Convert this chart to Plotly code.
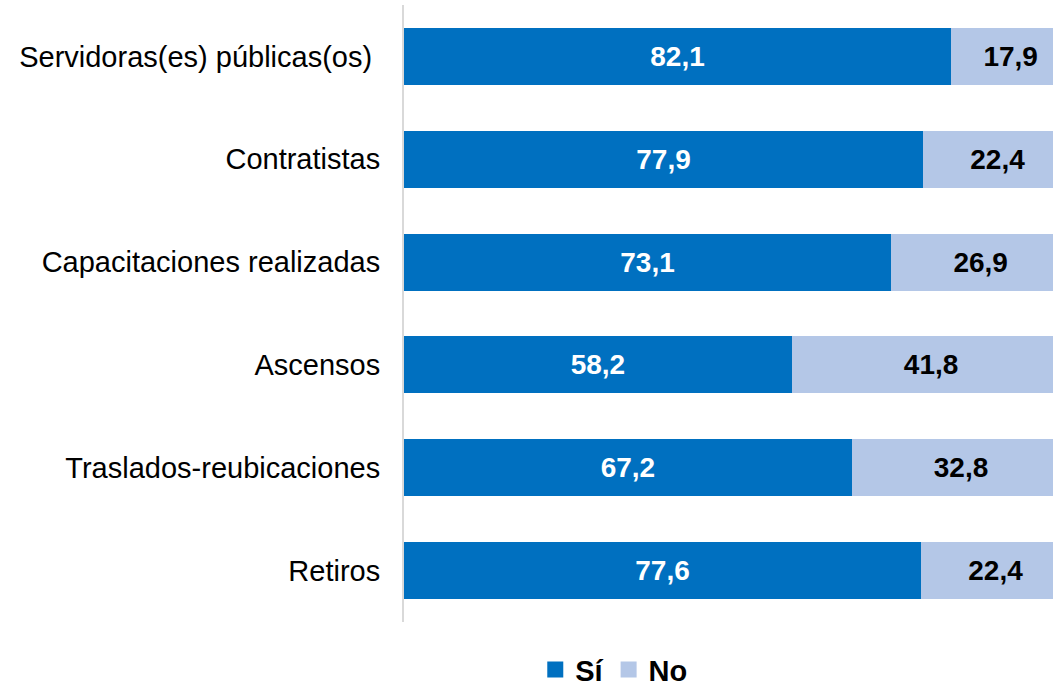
import plotly.graph_objects as go

categories = [
    "Servidoras(es) públicas(os)\u00a0",
    "Contratistas",
    "Capacitaciones realizadas",
    "Ascensos",
    "Traslados-reubicaciones",
    "Retiros",
]
si_values = [82.1, 77.9, 73.1, 58.2, 67.2, 77.6]
no_values = [17.9, 22.4, 26.9, 41.8, 32.8, 22.4]

FONT = "Arial, Liberation Sans, sans-serif"
SI_COLOR = "#0070C0"
NO_COLOR = "#B4C7E7"

fig = go.Figure()
for name, vals, color, txt in [("Sí", si_values, SI_COLOR, "white"), ("No", no_values, NO_COLOR, "black")]:
    fig.add_trace(go.Bar(
        y=categories, x=vals, orientation="h", name=name, showlegend=False,
        marker=dict(color=color, line=dict(width=0)),
        texttemplate="%{x:.1f}", textposition="inside", insidetextanchor="middle",
        textangle=0, constraintext="none",
        textfont=dict(family=FONT, size=28, color=txt, weight="bold"),
    ))
    # legend entry with bigger square swatch
    fig.add_trace(go.Scatter(
        x=[None], y=[None], mode="markers", name=name,
        marker=dict(symbol="square", size=16, color=color),
    ))

fig.update_layout(
    barmode="stack",
    bargap=0.445,
    separators=",.",
    width=1053, height=689,
    margin=dict(l=404, r=0, t=5, b=67),
    paper_bgcolor="white",
    plot_bgcolor="white",
    font=dict(family=FONT, size=29, color="black"),
    xaxis=dict(range=[0, 97.4], visible=False, fixedrange=True),
    yaxis=dict(
        autorange="reversed",
        showline=True, linecolor="#D9D9D9", linewidth=2,
        ticks="outside", ticklen=16, tickcolor="rgba(0,0,0,0)",
        tickfont=dict(family=FONT, size=29, color="black"),
        showgrid=False,
    ),
    showlegend=True,
    legend=dict(
        orientation="h", x=0.324, xanchor="center",
        yref="container", y=0.028, yanchor="middle",
        font=dict(family=FONT, size=29, color="black", weight="bold"),
        itemwidth=30, traceorder="normal",
    ),
)

fig.write_html("out.html", config={"displayModeBar": False},
               post_script="document.body.style.margin='0px';")
